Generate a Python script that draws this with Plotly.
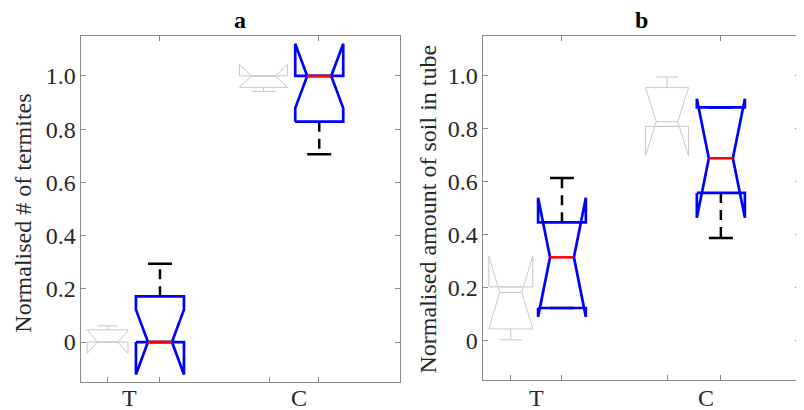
import plotly.graph_objects as go

# ---------------- data ----------------
categories = ["T", "C"]
y_tick_vals = [0, 0.2, 0.4, 0.6, 0.8, 1.0]
y_tick_text = ["0", "0.2", "0.4", "0.6", "0.8", "1.0"]
panel_titles = ["a", "b"]
y_titles = ["Normalised # of termites", "Normalised amount of soil in tube"]

# panel a - grey (background) boxes
a_gray_q1 = [0.0, 0.957]
a_gray_med = [0.0, 1.0]
a_gray_q3 = [0.046, 1.0]
a_gray_notch = [0.043, 0.043]
a_gray_lo = [0.0, 0.942]
a_gray_hi = [0.061, 1.0]
# panel a - blue boxes
a_blue_q1 = [0.0, 0.828]
a_blue_med = [0.0, 1.0]
a_blue_q3 = [0.172, 1.0]
a_blue_notch = [0.122, 0.121]
a_blue_lo = [0.0, 0.706]
a_blue_hi = [0.294, 1.0]

# panel b - grey boxes
b_gray_q1 = [0.043, 0.8085]
b_gray_med = [0.181, 0.826]
b_gray_q3 = [0.2017, 0.955]
b_gray_notch = [0.137, 0.128]
b_gray_lo = [0.002, 0.8085]
b_gray_hi = [0.2017, 0.995]
# panel b - blue boxes
b_blue_q1 = [0.122, 0.557]
b_blue_med = [0.3136, 0.688]
b_blue_q3 = [0.446, 0.880]
b_blue_notch = [0.225, 0.225]
b_blue_lo = [0.122, 0.387]
b_blue_hi = [0.6135, 0.880]

# ---------------- layout constants (positions / widths) ----------------
# the page body has an 8px margin, so the figure is drawn 8px smaller and
# pixel positions below are page positions converted to figure coordinates
OFF = 8
W, H = 804 - OFF, 410 - OFF
FS = 24
panels = [
    dict(xr=[0.833, 2.80], dom=(80.5, 399.5), ybot=382,
         gray_pos=[1.0, 1.961], gray_hw=[0.126, 0.148],
         blue_pos=[1.323, 2.305], blue_hw=[0.148, 0.148],
         ticks=[1.0, 1.322, 2.0, 2.30], lab_pos=[1.138, 2.182],
         title_x=240, ytitle_x=22.7, ytitle_y=213),
    dict(xr=[0.8255, 2.847], dom=(482.6, 800.0), ybot=380,
         gray_pos=[1.005, 2.0], gray_hw=[0.14, 0.137],
         blue_pos=[1.331, 2.343], blue_hw=[0.152, 0.153],
         ticks=[1.0, 1.329, 2.0, 2.339], lab_pos=[1.17, 2.246],
         title_x=641, ytitle_x=427.5, ytitle_y=209),
]
data = [
    dict(gray=(a_gray_q1, a_gray_med, a_gray_q3, a_gray_notch, a_gray_lo, a_gray_hi),
         blue=(a_blue_q1, a_blue_med, a_blue_q3, a_blue_notch, a_blue_lo, a_blue_hi)),
    dict(gray=(b_gray_q1, b_gray_med, b_gray_q3, b_gray_notch, b_gray_lo, b_gray_hi),
         blue=(b_blue_q1, b_blue_med, b_blue_q3, b_blue_notch, b_blue_lo, b_blue_hi)),
]

GRAY = "#c8c8c8"
BLUE = "#0000ff"
RED = "#ff0000"
BLACK = "#000000"
AXC = "#8a8a8a"
TXT = "#262626"
FONT = "Liberation Serif"


def px_x(v):
    return (v - OFF) / W


def px_y(v):
    return 1 - (v - OFF) / H


def box_geometry(pos, hw, q1, med, q3, notch, lo, hi):
    bx, by, wx, wy, cx, cy, mx, my = [], [], [], [], [], [], [], []
    for i in range(len(pos)):
        x, h = pos[i], hw[i]
        bx += [x - h, x - h, x - h / 2, x - h, x - h, x + h, x + h, x + h / 2, x + h, x + h, x - h, None]
        by += [q1[i], med[i] - notch[i], med[i], med[i] + notch[i], q3[i], q3[i],
               med[i] + notch[i], med[i], med[i] - notch[i], q1[i], q1[i], None]
        wx += [x, x, None, x, x, None]
        wy += [q3[i], hi[i], None, q1[i], lo[i], None]
        cx += [x - h / 2, x + h / 2, None, x - h / 2, x + h / 2, None]
        cy += [hi[i], hi[i], None, lo[i], lo[i], None]
        mx += [x - h / 2, x + h / 2, None]
        my += [med[i], med[i], None]
    return bx, by, wx, wy, cx, cy, mx, my


fig = go.Figure()
annotations = []
layout_axes = {}

for k, (p, d) in enumerate(zip(panels, data)):
    xa = "x" if k == 0 else "x2"
    ya = "y" if k == 0 else "y2"
    xt = "x3" if k == 0 else "x4"
    # grey boxes
    bx, by, wx, wy, cx, cy, mx, my = box_geometry(p["gray_pos"], p["gray_hw"], *d["gray"])
    for xs, ys in [(wx, wy), (cx, cy), (bx, by), (mx, my)]:
        fig.add_trace(go.Scatter(x=xs, y=ys, mode="lines", xaxis=xa, yaxis=ya,
                                 line=dict(color=GRAY, width=1), hoverinfo="skip",
                                 showlegend=False))
    # blue boxes
    bx, by, wx, wy, cx, cy, mx, my = box_geometry(p["blue_pos"], p["blue_hw"], *d["blue"])
    fig.add_trace(go.Scatter(x=wx, y=wy, mode="lines", xaxis=xa, yaxis=ya,
                             line=dict(color=BLACK, width=2.5, dash="10px,7px"),
                             hoverinfo="skip", showlegend=False))
    fig.add_trace(go.Scatter(x=cx, y=cy, mode="lines", xaxis=xa, yaxis=ya,
                             line=dict(color=BLACK, width=2.5), hoverinfo="skip",
                             showlegend=False))
    fig.add_trace(go.Scatter(x=bx, y=by, mode="lines", xaxis=xa, yaxis=ya,
                             line=dict(color=BLUE, width=2.7), hoverinfo="skip",
                             showlegend=False))
    fig.add_trace(go.Scatter(x=mx, y=my, mode="lines", xaxis=xa, yaxis=ya,
                             line=dict(color=RED, width=2.5), hoverinfo="skip",
                             showlegend=False))
    # dummy trace for top tick axis
    fig.add_trace(go.Scatter(x=[None], y=[None], xaxis=xt, yaxis=ya, showlegend=False,
                             hoverinfo="skip"))

    x0, x1 = p["dom"]
    xdom = [px_x(x0), px_x(x1)]
    ydom = [px_y(p["ybot"]), px_y(36)]
    sfx = "" if k == 0 else "2"
    layout_axes["xaxis" + sfx] = dict(
        domain=xdom, range=p["xr"], anchor=ya, tickmode="array", tickvals=p["ticks"],
        ticktext=["" for _ in p["ticks"]], ticks="inside", ticklen=5, tickcolor=AXC,
        showline=True, linecolor=AXC, linewidth=1, mirror=True, showgrid=False,
        zeroline=False, fixedrange=True)
    layout_axes["yaxis" + sfx] = dict(
        domain=ydom, range=[-0.15, 1.15], anchor=xa, tickmode="array",
        tickvals=y_tick_vals, ticktext=y_tick_text, ticks="inside", ticklen=5,
        tickcolor=AXC, showline=True, linecolor=AXC, linewidth=1, mirror="ticks",
        showgrid=False, zeroline=False, tickfont=dict(family=FONT, size=FS, color=TXT),
        ticklabelstandoff=-1)
    sfx_t = "3" if k == 0 else "4"
    layout_axes["xaxis" + sfx_t] = dict(
        domain=xdom, range=p["xr"], anchor=ya, overlaying=xa, side="top",
        tickmode="array", tickvals=[p["ticks"][1], p["ticks"][3]],
        showticklabels=False, ticks="inside", ticklen=5, tickcolor=AXC,
        showline=False, showgrid=False, zeroline=False)

    # category labels
    for c, xp in zip(categories, p["lab_pos"]):
        annotations.append(dict(x=xp, y=px_y(398), xref=xa, yref="paper", text=c,
                                showarrow=False, xanchor="center", yanchor="middle",
                                font=dict(family=FONT, size=FS, color=TXT)))
    # panel title
    annotations.append(dict(x=px_x(p["title_x"]), y=px_y(20), xref="paper", yref="paper",
                            text="<b>" + panel_titles[k] + "</b>", showarrow=False,
                            xanchor="center", yanchor="middle",
                            font=dict(family=FONT, size=FS, color="#000000")))
    # y-axis title
    annotations.append(dict(x=px_x(p["ytitle_x"]), y=px_y(p["ytitle_y"]), xref="paper",
                            yref="paper", text=y_titles[k], showarrow=False,
                            textangle=-90, xanchor="center", yanchor="middle",
                            font=dict(family=FONT, size=FS, color=TXT)))

fig.update_layout(
    width=W, height=H, margin=dict(l=0, r=0, t=0, b=0),
    paper_bgcolor="white", plot_bgcolor="white", showlegend=False,
    annotations=annotations, **layout_axes)

fig.write_html("out.html")
